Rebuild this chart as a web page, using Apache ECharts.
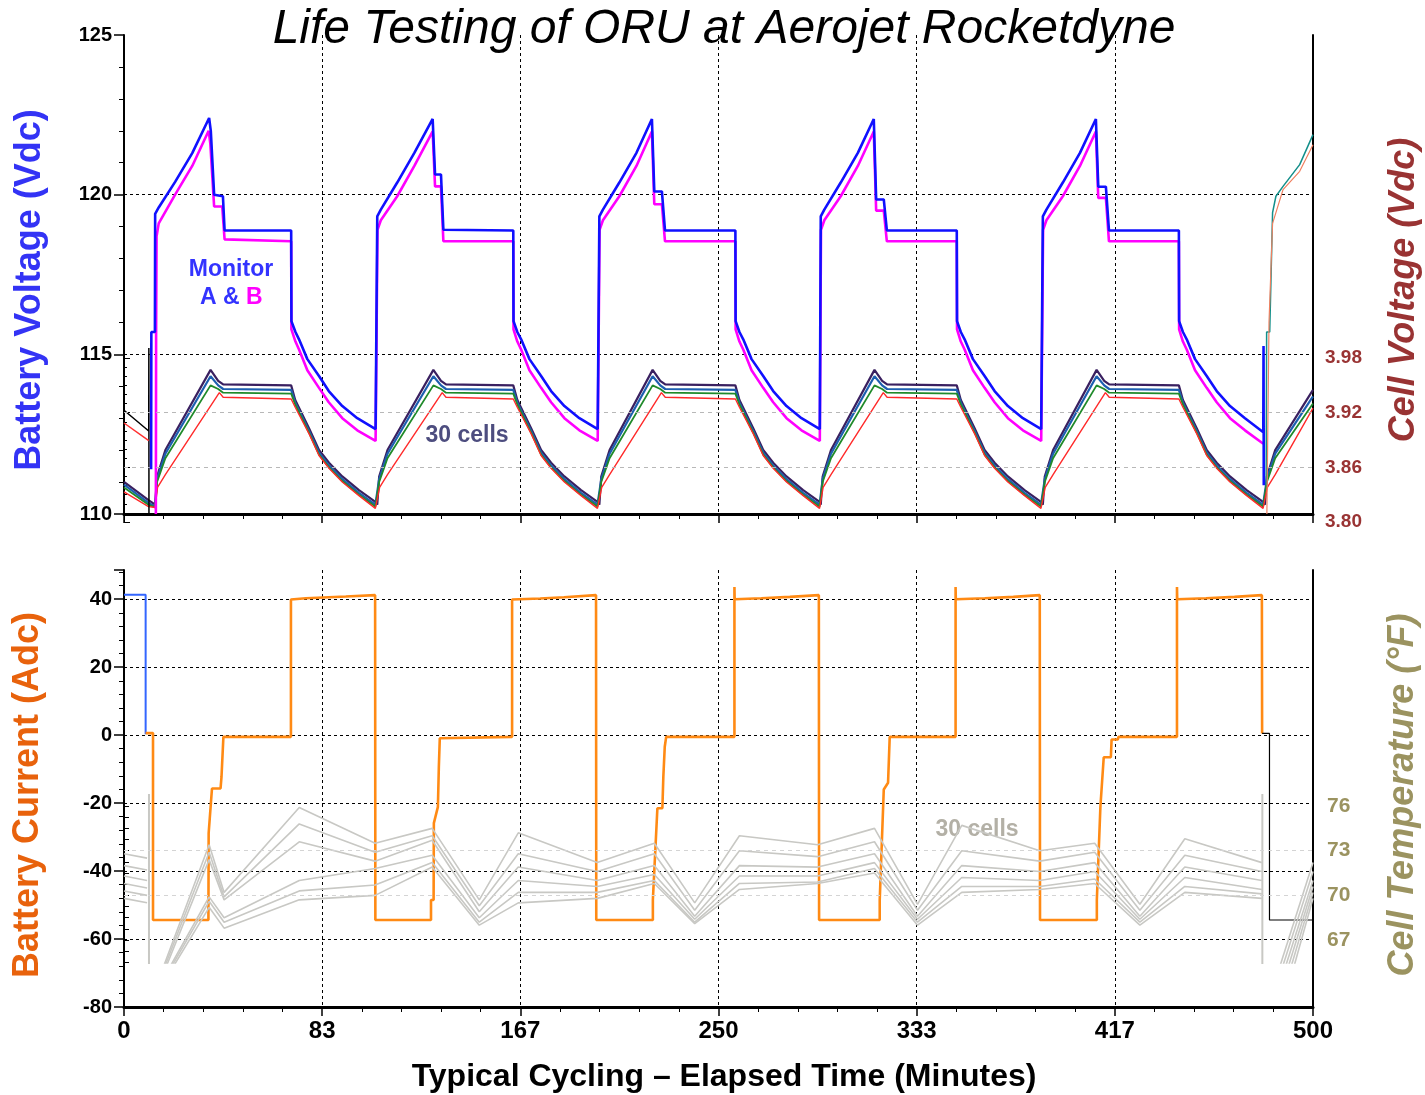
<!DOCTYPE html>
<html>
<head>
<meta charset="utf-8">
<title>Life Testing of ORU at Aerojet Rocketdyne</title>
<script src="https://cdn.jsdelivr.net/npm/echarts@6/dist/echarts.min.js"></script>
<style>
  html, body { margin: 0; padding: 0; background: #fff; }
  #chart { width: 1425px; height: 1095px; }
</style>
</head>
<body>
<div id="chart"></div>
<script>
// all times in minutes
const xTickLabels = ['0', '83', '167', '250', '333', '417', '500']

// battery voltage, monitor A (Vdc)
const monitorA = [
  [11.4,111.4],[11.5,115.7],[13.0,115.7],
  [13.1,119.4],[14.6,119.6],[21.5,120.4],[28.7,121.3],[35.8,122.4],[36.5,122.0],[37.9,120.0],[41.6,119.95],[42.3,118.88],[70.3,118.88],
  [70.4,116.04],[72.1,115.7],[73.6,115.47],[77.1,114.85],[82.0,114.32],[86.1,113.85],[91.8,113.38],[98.1,113.0],[105.8,112.66],
  [106.5,119.32],[108.0,119.53],[114.9,120.38],[122.1,121.31],[129.8,122.37],[130.8,120.63],[133.3,120.63],[134.3,118.9],[163.7,118.88],
  [163.8,116.04],[165.4,115.7],[167.0,115.47],[170.5,114.85],[175.4,114.32],[179.6,113.85],[185.2,113.38],[191.5,113.0],[199.2,112.66],
  [199.9,119.32],[201.4,119.53],[208.3,120.38],[215.5,121.31],[222.0,122.37],[223.0,120.1],[226.2,120.1],[227.5,118.88],[257.1,118.88],
  [257.2,116.04],[258.8,115.7],[260.4,115.47],[263.9,114.85],[268.8,114.32],[273.0,113.85],[278.6,113.38],[284.9,113.0],[292.6,112.66],
  [293.0,119.32],[294.5,119.53],[301.4,120.38],[308.6,121.31],[315.3,122.37],[316.3,119.85],[319.5,119.85],[320.8,118.88],[350.2,118.88],
  [350.3,116.04],[351.9,115.7],[353.5,115.47],[357.0,114.85],[361.9,114.32],[366.1,113.85],[371.7,113.38],[378.0,113.0],[385.7,112.66],
  [386.4,119.32],[387.9,119.53],[394.8,120.38],[402.0,121.31],[408.7,122.37],[409.7,120.25],[412.9,120.25],[414.2,118.88],[443.6,118.88],
  [443.7,116.04],[445.3,115.7],[446.9,115.47],[450.4,114.85],[455.3,114.32],[459.5,113.85],[465.1,113.38],[471.4,113.0],[479.1,112.56],
  [479.2,115.26],[479.3,110.9]
]

// battery voltage, monitor B (Vdc)
const monitorB = [
  [13.4,110.0],[13.5,115.5],[13.7,118.7],
  [14.6,119.1],[21.5,120.0],[28.7,120.9],[35.6,122.0],[36.3,121.6],[37.9,119.63],[41.3,119.63],[42.3,118.6],[70.3,118.54],
  [70.4,115.78],[72.1,115.4],[73.6,115.15],[77.1,114.5],[82.0,113.95],[86.1,113.5],[91.8,113.0],[98.1,112.62],[105.8,112.29],
  [106.6,118.9],[108.0,119.2],[114.9,119.95],[122.1,120.9],[129.8,121.98],[130.8,120.26],[133.3,120.26],[134.3,118.54],[163.7,118.54],
  [163.8,115.78],[165.4,115.4],[167.0,115.15],[170.5,114.5],[175.4,113.95],[179.6,113.5],[185.2,113.0],[191.5,112.62],[199.2,112.29],
  [200.0,118.9],[201.4,119.2],[208.3,119.95],[215.5,120.9],[222.0,121.98],[223.0,119.7],[226.2,119.7],[227.5,118.54],[257.1,118.54],
  [257.2,115.78],[258.8,115.4],[260.4,115.15],[263.9,114.5],[268.8,113.95],[273.0,113.5],[278.6,113.0],[284.9,112.62],[292.6,112.29],
  [293.1,118.9],[294.5,119.2],[301.4,119.95],[308.6,120.9],[315.3,121.98],[316.3,119.5],[319.5,119.5],[320.8,118.54],[350.2,118.54],
  [350.3,115.78],[351.9,115.4],[353.5,115.15],[357.0,114.5],[361.9,113.95],[366.1,113.5],[371.7,113.0],[378.0,112.62],[385.7,112.29],
  [386.5,118.9],[387.9,119.2],[394.8,119.95],[402.0,120.9],[408.7,121.98],[409.7,119.9],[412.9,119.9],[414.2,118.54],[443.6,118.54],
  [443.7,115.78],[445.3,115.4],[446.9,115.15],[450.4,114.5],[455.3,113.95],[459.5,113.5],[465.1,113.0],[471.4,112.62],[479.1,112.2]
]

// other voltage channels seen at the ends of the record
const auxBlack = [[0,113.25],[10.4,112.6],[10.45,115.2],[10.5,110.0]]
const auxRed = [[0,112.85],[10.4,112.3]]
const auxTeal = [[480.3,110.9],[480.5,115.7],[481.8,115.7],[483.0,119.44],[484.4,119.95],[487.4,120.26],[494.4,120.94],[500,121.88]]
const auxSalmon = [[480.6,110.0],[481.5,116.0],[483.0,119.1],[487.4,120.16],[494.4,120.73],[500,121.56]]

// cell voltages (V), upper / middle / lower of the 30-cell band, and the low red cell
const cellTop = [
  [0,3.844],[10.3,3.824],
  [13.1,3.819],[13.9,3.850],[17.4,3.879],[36.4,3.967],[39.6,3.955],[41.7,3.951],[70.3,3.950],[72.0,3.934],[77.8,3.903],[82.0,3.879],[86.2,3.865],[91.8,3.850],[98.8,3.835],[105.7,3.822],
  [106.5,3.819],[107.3,3.850],[110.8,3.879],[130.1,3.967],[133.3,3.955],[135.4,3.951],[163.7,3.950],[165.4,3.934],[171.2,3.903],[175.4,3.879],[179.6,3.865],[185.2,3.850],[192.2,3.835],[199.1,3.822],
  [199.9,3.819],[200.7,3.850],[204.2,3.879],[222.3,3.967],[225.5,3.955],[227.6,3.951],[257.1,3.950],[258.8,3.934],[264.6,3.903],[268.8,3.879],[273.0,3.865],[278.6,3.850],[285.6,3.835],[292.5,3.822],
  [293.0,3.819],[293.8,3.850],[297.3,3.879],[315.6,3.967],[318.8,3.955],[320.9,3.951],[350.2,3.950],[351.9,3.934],[357.7,3.903],[361.9,3.879],[366.1,3.865],[371.7,3.850],[378.7,3.835],[385.6,3.822],
  [386.4,3.819],[387.2,3.850],[390.7,3.879],[409.0,3.967],[412.2,3.955],[414.3,3.951],[443.6,3.950],[445.3,3.934],[451.1,3.903],[455.3,3.879],[459.5,3.865],[465.1,3.850],[472.1,3.835],[479.0,3.822],
  [479.8,3.819],[480.6,3.850],[484.1,3.879],[500,3.945]
]
const cellMid = [
  [0,3.841],[10.3,3.821],
  [13.1,3.817],[13.9,3.847],[17.4,3.875],[36.4,3.960],[39.6,3.950],[41.7,3.946],[70.3,3.945],[72.0,3.931],[77.8,3.900],[82.0,3.876],[86.2,3.862],[91.8,3.847],[98.8,3.832],[105.7,3.819],
  [106.5,3.817],[107.3,3.847],[110.8,3.875],[130.1,3.960],[133.3,3.950],[135.4,3.946],[163.7,3.945],[165.4,3.931],[171.2,3.900],[175.4,3.876],[179.6,3.862],[185.2,3.847],[192.2,3.832],[199.1,3.819],
  [199.9,3.817],[200.7,3.847],[204.2,3.875],[222.3,3.960],[225.5,3.950],[227.6,3.946],[257.1,3.945],[258.8,3.931],[264.6,3.900],[268.8,3.876],[273.0,3.862],[278.6,3.847],[285.6,3.832],[292.5,3.819],
  [293.0,3.817],[293.8,3.847],[297.3,3.875],[315.6,3.960],[318.8,3.950],[320.9,3.946],[350.2,3.945],[351.9,3.931],[357.7,3.900],[361.9,3.876],[366.1,3.862],[371.7,3.847],[378.7,3.832],[385.6,3.819],
  [386.4,3.817],[387.2,3.847],[390.7,3.875],[409.0,3.960],[412.2,3.950],[414.3,3.946],[443.6,3.945],[445.3,3.931],[451.1,3.900],[455.3,3.876],[459.5,3.862],[465.1,3.847],[472.1,3.832],[479.0,3.819],
  [479.8,3.817],[480.6,3.847],[484.1,3.875],[500,3.938]
]
const cellLow = [
  [0,3.838],[10.3,3.819],
  [13.1,3.816],[13.9,3.844],[17.4,3.870],[36.4,3.950],[39.6,3.946],[41.7,3.942],[70.3,3.941],[72.0,3.929],[77.8,3.898],[82.0,3.874],[86.2,3.860],[91.8,3.845],[98.8,3.830],[105.7,3.817],
  [106.5,3.816],[107.3,3.844],[110.8,3.870],[130.1,3.950],[133.3,3.946],[135.4,3.942],[163.7,3.941],[165.4,3.929],[171.2,3.898],[175.4,3.874],[179.6,3.860],[185.2,3.845],[192.2,3.830],[199.1,3.817],
  [199.9,3.816],[200.7,3.844],[204.2,3.870],[222.3,3.950],[225.5,3.946],[227.6,3.942],[257.1,3.941],[258.8,3.929],[264.6,3.898],[268.8,3.874],[273.0,3.860],[278.6,3.845],[285.6,3.830],[292.5,3.817],
  [293.0,3.816],[293.8,3.844],[297.3,3.870],[315.6,3.950],[318.8,3.946],[320.9,3.942],[350.2,3.941],[351.9,3.929],[357.7,3.898],[361.9,3.874],[366.1,3.860],[371.7,3.845],[378.7,3.830],[385.6,3.817],
  [386.4,3.816],[387.2,3.844],[390.7,3.870],[409.0,3.950],[412.2,3.946],[414.3,3.942],[443.6,3.941],[445.3,3.929],[451.1,3.898],[455.3,3.874],[459.5,3.860],[465.1,3.845],[472.1,3.830],[479.0,3.817],
  [479.8,3.816],[480.6,3.844],[484.1,3.870],[500,3.930]
]
const cellRed = [
  [0,3.833],[10.3,3.817],
  [13.1,3.816],[14.1,3.838],[17.4,3.852],[40.1,3.942],[41.7,3.937],[70.3,3.935],[72.0,3.926],[77.8,3.897],[82.0,3.873],[86.2,3.859],[91.8,3.844],[98.8,3.829],[105.7,3.815],
  [106.5,3.816],[107.5,3.838],[110.8,3.852],[133.8,3.942],[135.4,3.937],[163.7,3.935],[165.4,3.926],[171.2,3.897],[175.4,3.873],[179.6,3.859],[185.2,3.844],[192.2,3.829],[199.1,3.815],
  [199.9,3.816],[200.9,3.838],[204.2,3.852],[226.0,3.942],[227.6,3.937],[257.1,3.935],[258.8,3.926],[264.6,3.897],[268.8,3.873],[273.0,3.859],[278.6,3.844],[285.6,3.829],[292.5,3.815],
  [293.0,3.816],[294.0,3.838],[297.3,3.852],[319.3,3.942],[320.9,3.937],[350.2,3.935],[351.9,3.926],[357.7,3.897],[361.9,3.873],[366.1,3.859],[371.7,3.844],[378.7,3.829],[385.6,3.815],
  [386.4,3.816],[387.4,3.838],[390.7,3.852],[412.7,3.942],[414.3,3.937],[443.6,3.935],[445.3,3.926],[451.1,3.897],[455.3,3.873],[459.5,3.859],[465.1,3.844],[472.1,3.829],[479.0,3.815],
  [479.8,3.816],[480.8,3.838],[484.1,3.852],[500,3.925]
]

// battery current (Adc)
const currentStart = [[0,41.3],[9.1,41.3],[9.1,0.3]]
const current = [
  [9.1,0.6],[12.2,0.6],[12.2,-54.4],[35.5,-54.4],[35.6,-28.8],[37.0,-15.7],[40.6,-15.7],[41.0,-12.3],[41.8,-0.5],[70.2,-0.5],
  [70.2,39.9],[76.5,40.3],[93.3,40.8],[105.6,41.2],[105.7,-54.4],
  [129.1,-54.4],[129.1,-48.5],[130.2,-48.5],[130.3,-25.9],[132.0,-21.1],[132.4,-9.3],[132.8,-0.9],[133.3,-0.5],[163.2,-0.5],
  [163.2,39.9],[175.0,40.2],[185.0,40.6],[198.5,41.2],[198.6,-54.4],
  [222.4,-54.4],[222.4,-48.5],[223.2,-48.5],[224.3,-21.5],[226.4,-21.5],[226.8,-12.3],[227.4,-3.4],[228.0,-0.5],[256.7,-0.5],
  [256.7,43.6],[256.8,40.0],[268.0,40.3],[280.0,40.7],[292.2,41.2],[292.3,-54.4],
  [317.8,-54.4],[317.8,-48.5],[318.6,-48.5],[319.5,-16.0],[321.3,-14.0],[322.0,-0.5],[349.7,-0.5],
  [349.7,43.6],[349.8,40.0],[362.0,40.3],[374.0,40.7],[385.1,41.2],[385.2,-54.4],
  [409.1,-54.4],[409.1,-48.5],[409.9,-48.5],[410.6,-21.0],[412.0,-6.5],[415.0,-6.5],[415.3,-1.3],[417.9,-1.3],[418.2,-0.5],[442.8,-0.5],
  [442.8,43.6],[442.9,40.0],[455.0,40.3],[467.0,40.7],[478.5,41.2],[478.6,0.5]
]
const currentEnd = [[478.6,0.5],[481.7,0.5],[481.7,-54.4],[500,-54.4]]

// cell temperatures (°F), six traces across the 30-cell spread; null = data gap
const temp1 = [[0,72.8],[9.7,72.5],null,[16.1,65.0],[35.8,73.4],[42.1,70.2],[73.7,75.9],[105.6,73.5],[129.6,74.5],[149.4,69.7],[165.8,74.2],[199,72.2],[223,73.5],[240,69.5],[258.8,74.0],[291.7,73.4],[315.6,74.5],[333.7,69.4],[352.3,74.7],[385.1,73.0],[408.2,73.5],[427.2,69.4],[446.1,73.8],[478.5,72.2],null,[485.6,65.0],[500,72.2]]
const temp2 = [[0,72.0],[9.7,71.7],null,[16.6,65.0],[35.8,72.9],[42.1,69.9],[73.7,74.8],[105.6,72.9],[129.6,74.0],[149.4,69.3],[165.8,72.8],[199,71.6],[223,72.8],[240,69.0],[258.8,73.0],[291.7,72.6],[315.6,73.6],[333.7,69.0],[352.3,73.0],[385.1,72.3],[408.2,72.9],[427.2,69.0],[446.1,72.7],[478.5,71.6],null,[486.8,65.0],[500,71.6]]
const temp3 = [[0,71.3],[9.7,71.0],null,[17.2,65.0],[35.8,72.4],[42.1,69.7],[73.7,73.6],[105.6,72.3],[129.6,73.7],[149.4,68.9],[165.8,71.9],[199,71.0],[223,72.0],[240,68.6],[258.8,72.0],[291.7,71.9],[315.6,72.8],[333.7,68.6],[352.3,72.0],[385.1,71.6],[408.2,72.2],[427.2,68.6],[446.1,71.9],[478.5,71.0],null,[488.0,65.0],[500,71.0]]
const temp4 = [[0,70.8],[9.7,70.5],null,[18.6,65.0],[35.8,69.9],[42.1,68.5],[73.7,71.0],[105.6,71.8],[129.6,72.7],[149.4,68.5],[165.8,71.0],[199,70.6],[223,71.4],[240,68.4],[258.8,71.3],[291.7,71.3],[315.6,72.2],[333.7,68.4],[352.3,71.2],[385.1,71.0],[408.2,71.6],[427.2,68.4],[446.1,71.2],[478.5,70.4],null,[489.2,65.0],[500,70.6]]
const temp5 = [[0,70.3],[9.7,70.0],null,[19.2,65.0],[35.8,69.6],[42.1,68.2],[73.7,70.3],[105.6,70.7],[129.6,72.2],[149.4,68.2],[165.8,70.2],[199,70.2],[223,71.0],[240,68.2],[258.8,70.8],[291.7,70.9],[315.6,71.8],[333.7,68.2],[352.3,70.6],[385.1,70.6],[408.2,71.1],[427.2,68.2],[446.1,70.6],[478.5,70.1],null,[490.4,65.0],[500,70.2]]
const temp6 = [[0,69.8],[9.7,69.5],null,[19.9,65.0],[35.8,69.2],[42.1,67.8],[73.7,69.7],[105.6,70.0],[129.6,71.9],[149.4,68.0],[165.8,69.5],[199,69.8],[223,70.8],[240,68.1],[258.8,70.4],[291.7,70.8],[315.6,71.5],[333.7,68.0],[352.3,70.2],[385.1,70.4],[408.2,70.8],[427.2,68.0],[446.1,70.2],[478.5,69.8],null,[491.6,65.0],[500,69.8]]
const tempGlitch = [[10.5,80],[10.5,60],null,[478.7,80],[478.7,60]]

const tempLabels = [67, 70, 73, 76]
const tempTicks = [65.5, 66.25, 67, 67.75, 68.5, 69.25, 70, 70.75, 71.5, 72.25, 73, 73.75, 74.5, 75.25, 76]

const FONT = "'Liberation Sans', Arial, sans-serif"

// split a [x,y] list at null entries
function segments(arr) {
  const out = [[]]
  arr.forEach(p => {
    if (p === null) out.push([])
    else out[out.length - 1].push(p)
  })
  return out.filter(s => s.length)
}

function line(name, data, color, width, xi, yi, z, extra) {
  return Object.assign({
    name, type: 'line', data, xAxisIndex: xi, yAxisIndex: yi, z,
    showSymbol: false, symbol: 'none', silent: true, animation: false,
    lineStyle: { color, width }
  }, extra || {})
}

const dashed = { color: '#000', type: [3, 3], width: 1 }

const xBase = (gridIndex, showLabels) => ({
  type: 'value', gridIndex, min: 0, max: 500, interval: 500 / 6,
  axisLine: { onZero: false, lineStyle: { color: '#000', width: 3 } },
  axisTick: { length: 9, lineStyle: { color: '#000', width: 1.5 } },
  minorTick: { show: true, splitNumber: 5, length: 5, lineStyle: { color: '#000', width: 1 } },
  axisLabel: {
    show: showLabels, margin: 12, color: '#000', fontFamily: FONT, fontWeight: 'bold', fontSize: 24,
    formatter: v => xTickLabels[Math.round(v / (500 / 6))]
  },
  splitLine: { show: true, showMinLine: false, showMaxLine: false, lineStyle: dashed }
})

const series = [
  // temperatures (bottom overlay grid)
  ...[temp1, temp2, temp3, temp4, temp5, temp6].flatMap((t, i) =>
    segments(t).map((seg, j) => line('temp' + (i + 1), seg, '#c8c8c4', 1.6, 3, 5, 3,
      i === 0 && j === 0 ? {
        markLine: {
          silent: true, symbol: ['none', 'none'], label: { show: false }, animation: false,
          lineStyle: { color: '#d4d4d4', type: [4, 4], width: 1 },
          data: tempLabels.slice(1, 3).map(v => ({ yAxis: v }))
        }
      } : null))),
  ...segments(tempGlitch).map(seg => line('tempGlitch', seg, '#c8c8c4', 2, 3, 5, 3)),

  // battery current
  line('currentStart', currentStart, '#3366ff', 2, 2, 3, 2),
  line('current', current, '#ff8a14', 2.6, 2, 3, 2),
  line('currentEnd', currentEnd, '#000', 1.2, 2, 3, 2),

  // cells
  line('cellTop', cellTop, '#3a2060', 2.2, 0, 1, 2, {
    markLine: {
      silent: true, symbol: ['none', 'none'], label: { show: false }, animation: false,
      lineStyle: { color: '#b8b8b8', type: [4, 4], width: 1 },
      data: [{ yAxis: 3.86 }, { yAxis: 3.92 }]
    }
  }),
  line('cellMid', cellMid, '#1d5fb0', 2.2, 0, 1, 2),
  line('cellLow', cellLow, '#1f8a2a', 1.8, 0, 1, 2),
  line('cellRed', cellRed, '#ff2a2a', 1.4, 0, 1, 2),

  // battery voltages
  line('auxBlack', auxBlack, '#000', 1.5, 0, 0, 3),
  line('auxRed', auxRed, '#ff3030', 1.5, 0, 0, 3),
  line('auxTeal', auxTeal, '#138f8a', 1.5, 0, 0, 3),
  line('auxSalmon', auxSalmon, '#f08060', 1.2, 0, 0, 3),
  line('Monitor B', monitorB, '#ff00ff', 2.6, 0, 0, 4),
  line('Monitor A', monitorA, '#1010ff', 2.6, 0, 0, 5)
]

const chart = echarts.init(document.getElementById('chart'), null, { renderer: 'canvas' })
chart.setOption({
  backgroundColor: '#fff',
  animation: false,
  grid: [
    { left: 124, top: 35, width: 1189, height: 479 },
    { left: 124, top: 358, width: 1189, height: 164 },
    { left: 124, top: 570, width: 1189, height: 437 },
    { left: 124, top: 795, width: 1189, height: 168 }
  ],
  xAxis: [
    xBase(0, false),
    { type: 'value', gridIndex: 1, min: 0, max: 500, show: false },
    xBase(2, true),
    { type: 'value', gridIndex: 3, min: 0, max: 500, show: false }
  ],
  yAxis: [
    {
      type: 'value', gridIndex: 0, position: 'left', min: 110, max: 125, interval: 5,
      axisLine: { show: true, lineStyle: { color: '#000', width: 2 } },
      axisTick: { show: true, length: 10, lineStyle: { color: '#000', width: 1.5 } },
      minorTick: { show: true, splitNumber: 5, length: 5, lineStyle: { color: '#000' } },
      axisLabel: { margin: 12, color: '#000', fontFamily: FONT, fontWeight: 'bold', fontSize: 20 },
      splitLine: { show: true, showMinLine: false, showMaxLine: false, lineStyle: dashed }
    },
    {
      // data axis for cell voltages (3.80 V sits 8 px below the frame)
      type: 'value', gridIndex: 0, position: 'right', min: 3.8088, max: 4.3346,
      axisLine: { show: true, lineStyle: { color: '#000', width: 2 } },
      axisTick: { show: false }, axisLabel: { show: false }, splitLine: { show: false }
    },
    {
      type: 'value', gridIndex: 1, position: 'right', min: 3.80, max: 3.98, interval: 0.06,
      axisLine: { show: true, lineStyle: { color: '#000', width: 1 } },
      axisTick: { show: true, length: 6, lineStyle: { color: '#000' } },
      minorTick: { show: true, splitNumber: 6, length: 3, lineStyle: { color: '#000' } },
      axisLabel: { margin: 12, color: '#993333', fontFamily: FONT, fontWeight: 'bold', fontSize: 19, formatter: v => v.toFixed(2) },
      splitLine: { show: false }
    },
    {
      type: 'value', gridIndex: 2, position: 'left', min: -80, max: 48.6, interval: 20,
      axisLine: { show: true, onZero: false, lineStyle: { color: '#000', width: 2 } },
      axisTick: { show: true, length: 10, lineStyle: { color: '#000', width: 1.5 } },
      minorTick: { show: true, splitNumber: 5, length: 5, lineStyle: { color: '#000' } },
      axisLabel: { margin: 12, color: '#000', fontFamily: FONT, fontWeight: 'bold', fontSize: 20, showMaxLabel: false },
      splitLine: { show: true, showMinLine: false, showMaxLine: false, lineStyle: dashed }
    },
    {
      type: 'value', gridIndex: 2, position: 'right', min: -80, max: 48.6,
      axisLine: { show: true, onZero: false, lineStyle: { color: '#000', width: 2 } },
      axisTick: { show: false }, axisLabel: { show: false }, splitLine: { show: false }
    },
    {
      type: 'value', gridIndex: 3, position: 'right', min: 65.46, max: 76.74,
      axisLine: { show: true, lineStyle: { color: '#000', width: 1 } },
      axisTick: { show: true, length: 5, customValues: tempTicks, lineStyle: { color: '#000' } },
      axisLabel: { margin: 14, customValues: tempLabels, color: '#9b9360', fontFamily: FONT, fontWeight: 'bold', fontSize: 21 },
      splitLine: { show: false }
    }
  ],
  graphic: [
    { type: 'text', x: 724, y: 30, style: { text: 'Life Testing of ORU at Aerojet Rocketdyne', font: 'italic 48px ' + FONT, fill: '#000', textAlign: 'center', textVerticalAlign: 'middle' } },
    { type: 'text', x: 30, y: 290, rotation: Math.PI / 2, style: { text: 'Battery Voltage (Vdc)', font: 'bold 36px ' + FONT, fill: '#3333f5', textAlign: 'center', textVerticalAlign: 'middle' } },
    { type: 'text', x: 1404, y: 290, rotation: Math.PI / 2, style: { text: 'Cell Voltage (Vdc)', font: 'italic bold 36px ' + FONT, fill: '#993333', textAlign: 'center', textVerticalAlign: 'middle' } },
    { type: 'text', x: 28, y: 795, rotation: Math.PI / 2, style: { text: 'Battery Current (Adc)', font: 'bold 36px ' + FONT, fill: '#e8620c', textAlign: 'center', textVerticalAlign: 'middle' } },
    { type: 'text', x: 1403, y: 795, rotation: Math.PI / 2, style: { text: 'Cell Temperature (°F)', font: 'italic bold 36px ' + FONT, fill: '#9b9360', textAlign: 'center', textVerticalAlign: 'middle' } },
    { type: 'text', x: 724, y: 1077, style: { text: 'Typical Cycling – Elapsed Time (Minutes)', font: 'bold 32px ' + FONT, fill: '#000', textAlign: 'center', textVerticalAlign: 'middle' } },
    { type: 'text', x: 231, y: 270, style: { text: 'Monitor', font: 'bold 23px ' + FONT, fill: '#3333ff', textAlign: 'center', textVerticalAlign: 'middle' } },
    { type: 'text', x: 200, y: 298, style: { text: 'A &', font: 'bold 23px ' + FONT, fill: '#3333ff', textAlign: 'left', textVerticalAlign: 'middle' } },
    { type: 'text', x: 246, y: 298, style: { text: 'B', font: 'bold 23px ' + FONT, fill: '#ff00ff', textAlign: 'left', textVerticalAlign: 'middle' } },
    { type: 'text', x: 467, y: 436, style: { text: '30 cells', font: 'bold 23px ' + FONT, fill: '#4d4d7f', textAlign: 'center', textVerticalAlign: 'middle' } },
    { type: 'text', x: 977, y: 830, style: { text: '30 cells', font: 'bold 23px ' + FONT, fill: '#b3b0a6', textAlign: 'center', textVerticalAlign: 'middle' } }
  ],
  series
})
</script>
</body>
</html>
